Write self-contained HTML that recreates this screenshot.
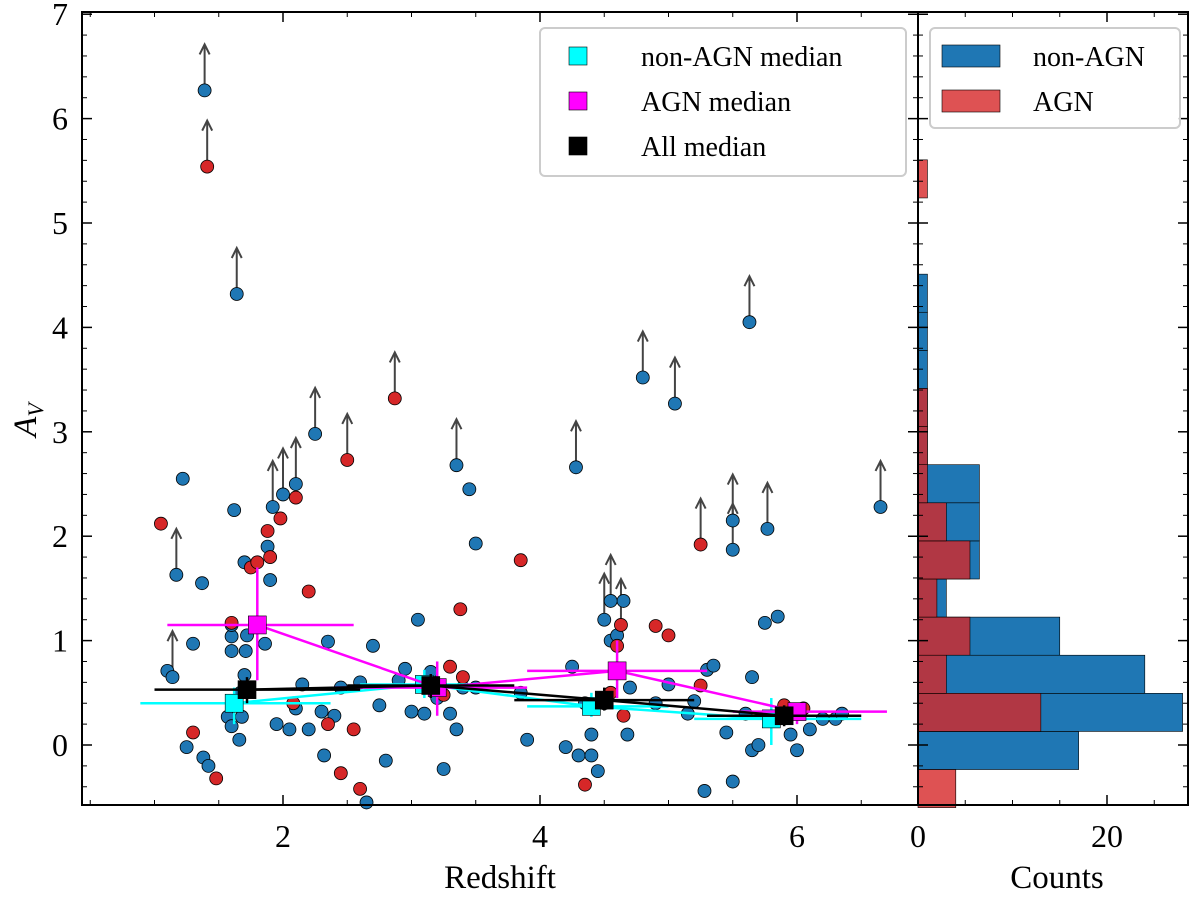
<!DOCTYPE html>
<html><head><meta charset="utf-8"><style>
body{margin:0;background:#fff}
svg{display:block;font-family:"Liberation Serif","DejaVu Serif",serif}
</style></head><body>
<svg id="c" width="1200" height="898" viewBox="0 0 1200 898"></svg>
<script>
const blueZ=[1.1,1.22,1.25,1.3,1.37,1.38,1.42,1.57,1.6,1.6,1.6,1.6,1.62,1.66,1.67,1.7,1.71,1.72,1.7,1.68,1.9,1.88,1.86,1.95,2.05,2.1,2.15,2.2,2.3,2.32,2.35,2.4,2.45,2.65,2.6,2.7,2.75,2.8,2.9,2.95,3.0,3.05,3.1,3.15,3.2,3.25,3.3,3.35,3.45,3.5,3.5,3.4,3.9,3.85,4.2,4.25,4.3,4.35,4.4,4.45,4.5,4.55,4.6,4.65,4.68,4.7,4.4,4.5,4.9,5.0,5.15,5.2,5.3,5.35,5.28,5.45,5.5,5.6,5.65,5.7,5.75,5.85,5.65,5.95,6.0,6.1,6.2,6.3,6.35];
const blueAv=[0.71,2.55,-0.02,0.97,1.55,-0.12,-0.2,0.27,0.18,0.9,1.04,1.15,2.25,0.05,0.5,0.67,0.9,1.05,1.75,0.27,1.58,1.9,0.97,0.2,0.15,0.35,0.58,0.15,0.32,-0.1,0.99,0.28,0.55,-0.55,0.6,0.95,0.38,-0.15,0.62,0.73,0.32,1.2,0.3,0.7,0.45,-0.23,0.3,0.15,2.45,1.93,0.55,0.55,0.05,0.5,-0.02,0.75,-0.1,0.4,0.1,-0.25,0.4,1.0,1.05,1.38,0.1,0.55,-0.1,-0.62,0.4,0.58,0.3,0.42,0.72,0.76,-0.44,0.12,-0.35,0.3,-0.05,0.0,1.17,1.23,0.65,0.1,-0.05,0.15,0.25,0.25,0.3];
const blueLimZ=[1.39,1.64,1.14,1.17,1.92,2.0,2.1,2.25,3.35,4.28,4.8,5.05,5.5,5.5,5.63,5.77,6.65,4.5,4.55];
const blueLimAv=[6.27,4.32,0.65,1.63,2.28,2.4,2.5,2.98,2.68,2.66,3.52,3.27,2.15,1.87,4.05,2.07,2.28,1.2,1.38];
const redZ=[1.05,1.3,1.48,1.6,1.75,1.8,1.88,1.9,1.98,2.1,2.08,2.2,2.35,2.45,2.55,2.6,3.3,3.38,3.4,3.25,3.85,4.35,4.6,4.55,4.65,4.9,5.0,5.25,5.9,6.05];
const redAv=[2.12,0.12,-0.32,1.17,1.7,1.75,2.05,1.8,2.17,2.37,0.4,1.47,0.2,-0.27,0.15,-0.42,0.75,1.3,0.65,0.48,1.77,-0.38,0.95,0.5,0.28,1.14,1.05,0.57,0.38,0.35];
const redLimZ=[1.41,2.5,2.87,5.25,4.63];
const redLimAv=[5.54,2.73,3.32,1.92,1.15];
const nonZ=[1.62,3.1,4.4,5.8], nonAv=[0.40,0.58,0.37,0.25], nonXlo=[0.89,2.6,3.9,5.2], nonXhi=[2.37,3.6,5.0,6.5], nonYlo=[0.2,0.45,0.27,0.0], nonYhi=[0.55,0.72,0.5,0.45];
const agnZ=[1.8,3.2,4.6,6.0], agnAv=[1.15,0.55,0.71,0.32], agnXlo=[1.1,2.4,3.9,5.5], agnXhi=[2.55,3.9,5.3,6.7], agnYlo=[0.62,0.28,0.45,0.2], agnYhi=[1.7,0.8,1.0,0.4];
const allZ=[1.72,3.15,4.5,5.9], allAv=[0.53,0.57,0.43,0.28], allXlo=[1.0,2.5,3.8,5.3], allXhi=[2.6,3.8,5.2,6.5], allYlo=[0.4,0.45,0.33,0.18], allYhi=[0.65,0.68,0.55,0.38];
const binLo=[-0.6,-0.235,0.13,0.495,0.86,1.225,1.59,1.955,2.32,2.685,3.05,3.415,3.78,4.145,4.51,4.875,5.24];
const histBlue=[0,17,28,24,15,3,6.5,6.5,6.5,1,1,1,1,1,0,0,0];
const histRed=[4,0,13,3,5.5,2,5.5,3,1,1,1,0,0,0,0,0,1];
const binW=0.365;
const xTicks=[2,4,6], yTicks=[0,1,2,3,4,5,6,7], cTicks=[0,20];

const S=document.getElementById('c'),NS='http://www.w3.org/2000/svg';
function el(t,a,p){const e=document.createElementNS(NS,t);for(const k in a)e.setAttribute(k,a[k]);(p||S).appendChild(e);return e;}
const L=82,R=918,T=12,B=805,HR=1188;
const X=z=>26+z*128.5, Y=a=>745-a*104.4, C=n=>918+n*9.45;
binLo.forEach((lo,i)=>{
 if(histBlue[i]>0){const r=el('rect',{x:C(0),y:Y(lo+binW),width:C(histBlue[i])-C(0),height:Y(lo)-Y(lo+binW),fill:'#1f77b4',stroke:'#000','stroke-width':0.6});
 
 }
});
binLo.forEach((lo,i)=>{
 if(histRed[i]>0){const r=el('rect',{x:C(0),y:Y(lo+binW),width:C(histRed[i])-C(0),height:Y(lo)-Y(lo+binW),fill:'rgba(214,39,40,0.8)',stroke:'#000','stroke-width':0.6});
 
 }
});
const g=el('g',{});
function arrow(z,a){const x=X(z),y=Y(a);el('line',{x1:x,y1:y,x2:x,y2:y-44,stroke:'#444','stroke-width':2},g);el('path',{d:`M${x-5},${y-36} L${x},${y-46} L${x+5},${y-36}`,fill:'none',stroke:'#444','stroke-width':2},g);}
blueLimZ.forEach((z,i)=>arrow(z,blueLimAv[i]));redLimZ.forEach((z,i)=>arrow(z,redLimAv[i]));
function dot(z,a,c,n){if(Y(a)>B+2)return;const d=el('circle',{cx:X(z),cy:Y(a),r:6.5,fill:c,stroke:'#000','stroke-width':0.8});
 
 }
blueZ.forEach((z,i)=>dot(z,blueAv[i],'#1f77b4','non-agn-point'));
blueLimZ.forEach((z,i)=>dot(z,blueLimAv[i],'#1f77b4','non-agn-limit-point'));
redZ.forEach((z,i)=>dot(z,redAv[i],'#d62728','agn-point'));
redLimZ.forEach((z,i)=>dot(z,redLimAv[i],'#d62728','agn-limit-point'));
function med(zs,as,xl,xh,yl,yh,c,n){
 el('polyline',{points:zs.map((z,i)=>X(z)+','+Y(as[i])).join(' '),fill:'none',stroke:c,'stroke-width':2.5});
 zs.forEach((z,i)=>{el('line',{x1:X(xl[i]),x2:X(xh[i]),y1:Y(as[i]),y2:Y(as[i]),stroke:c,'stroke-width':2.5});
  el('line',{x1:X(z),x2:X(z),y1:Y(yl[i]),y2:Y(yh[i]),stroke:c,'stroke-width':2.5});
  const m=el('rect',{x:X(z)-9,y:Y(as[i])-9,width:18,height:18,fill:c,stroke:'#000','stroke-width':0.6});
  
  });
}
med(nonZ,nonAv,nonXlo,nonXhi,nonYlo,nonYhi,'#00ffff','non-agn-median');
med(agnZ,agnAv,agnXlo,agnXhi,agnYlo,agnYhi,'#ff00ff','agn-median');
med(allZ,allAv,allXlo,allXhi,allYlo,allYhi,'#000000','all-median');
el('rect',{x:L,y:T,width:R-L,height:B-T,fill:'none',stroke:'#000','stroke-width':2});
el('rect',{x:R,y:T,width:HR-R,height:B-T,fill:'none',stroke:'#000','stroke-width':2});
function txt(x,y,s,a,sz,n){const t=el('text',{x:x,y:y,'font-size':sz,'text-anchor':a});t.textContent=s;return t;}
xTicks.forEach(v=>{el('line',{x1:X(v),x2:X(v),y1:B,y2:B-10,stroke:'#000','stroke-width':1.5});el('line',{x1:X(v),x2:X(v),y1:T,y2:T+10,stroke:'#000','stroke-width':1.5});txt(X(v),B+42,v,'middle',32,'x-tick-label');});
for(let v=0.5;v<7;v+=0.5){if(v%2===0)continue;el('line',{x1:X(v),x2:X(v),y1:B,y2:B-5,stroke:'#000'});el('line',{x1:X(v),x2:X(v),y1:T,y2:T+5,stroke:'#000'});}
yTicks.forEach(v=>{el('line',{x1:L,x2:L+10,y1:Y(v),y2:Y(v),stroke:'#000','stroke-width':1.5});el('line',{x1:R-10,x2:R+10,y1:Y(v),y2:Y(v),stroke:'#000','stroke-width':1.5});el('line',{x1:HR-10,x2:HR,y1:Y(v),y2:Y(v),stroke:'#000','stroke-width':1.5});txt(L-14,Y(v)+11,v,'end',32,'y-tick-label');});
for(let v=-0.4;v<7;v+=0.2){if(Math.abs(v-Math.round(v))<0.01)continue;el('line',{x1:L,x2:L+5,y1:Y(v),y2:Y(v),stroke:'#000'});el('line',{x1:R-5,x2:R+5,y1:Y(v),y2:Y(v),stroke:'#000'});el('line',{x1:HR-5,x2:HR,y1:Y(v),y2:Y(v),stroke:'#000'});}
cTicks.forEach(v=>{el('line',{x1:C(v),x2:C(v),y1:B,y2:B-10,stroke:'#000','stroke-width':1.5});el('line',{x1:C(v),x2:C(v),y1:T,y2:T+10,stroke:'#000','stroke-width':1.5});txt(C(v),B+42,v,'middle',32,'count-tick-label');});
[5,10,15,25].forEach(v=>{el('line',{x1:C(v),x2:C(v),y1:B,y2:B-5,stroke:'#000'});el('line',{x1:C(v),x2:C(v),y1:T,y2:T+5,stroke:'#000'});});
txt(500,888,'Redshift','middle',33,'x-axis-title');
txt(1057,888,'Counts','middle',33,'hist-x-axis-title');
const yt=el('text',{x:0,y:0,'font-size':33,'font-style':'italic',transform:'translate(36,420) rotate(-90)','text-anchor':'middle'});
yt.innerHTML='A<tspan font-size="22" dy="7">V</tspan>';


const lg=el('rect',{x:540,y:28,width:366,height:148,rx:5,fill:'rgba(255,255,255,0.85)',stroke:'#ccc','stroke-width':2});

[['#00ffff','non-AGN median'],['#ff00ff','AGN median'],['#000','All median']].forEach((e,i)=>{const y=56+i*45;el('rect',{x:569,y:y-9,width:18,height:18,fill:e[0],stroke:'#000','stroke-width':0.6});txt(641,y+10,e[1],'start',28,'legend-entry');});
const lg2=el('rect',{x:930,y:28,width:250,height:100,rx:5,fill:'rgba(255,255,255,0.85)',stroke:'#ccc','stroke-width':2});

[['#1f77b4','non-AGN'],['rgba(214,39,40,0.8)','AGN']].forEach((e,i)=>{const y=56+i*45;el('rect',{x:942,y:y-11,width:58,height:22,fill:e[0],stroke:'#000','stroke-width':0.6});txt(1033,y+10,e[1],'start',28,'legend-entry');});
</script>
</body></html>
